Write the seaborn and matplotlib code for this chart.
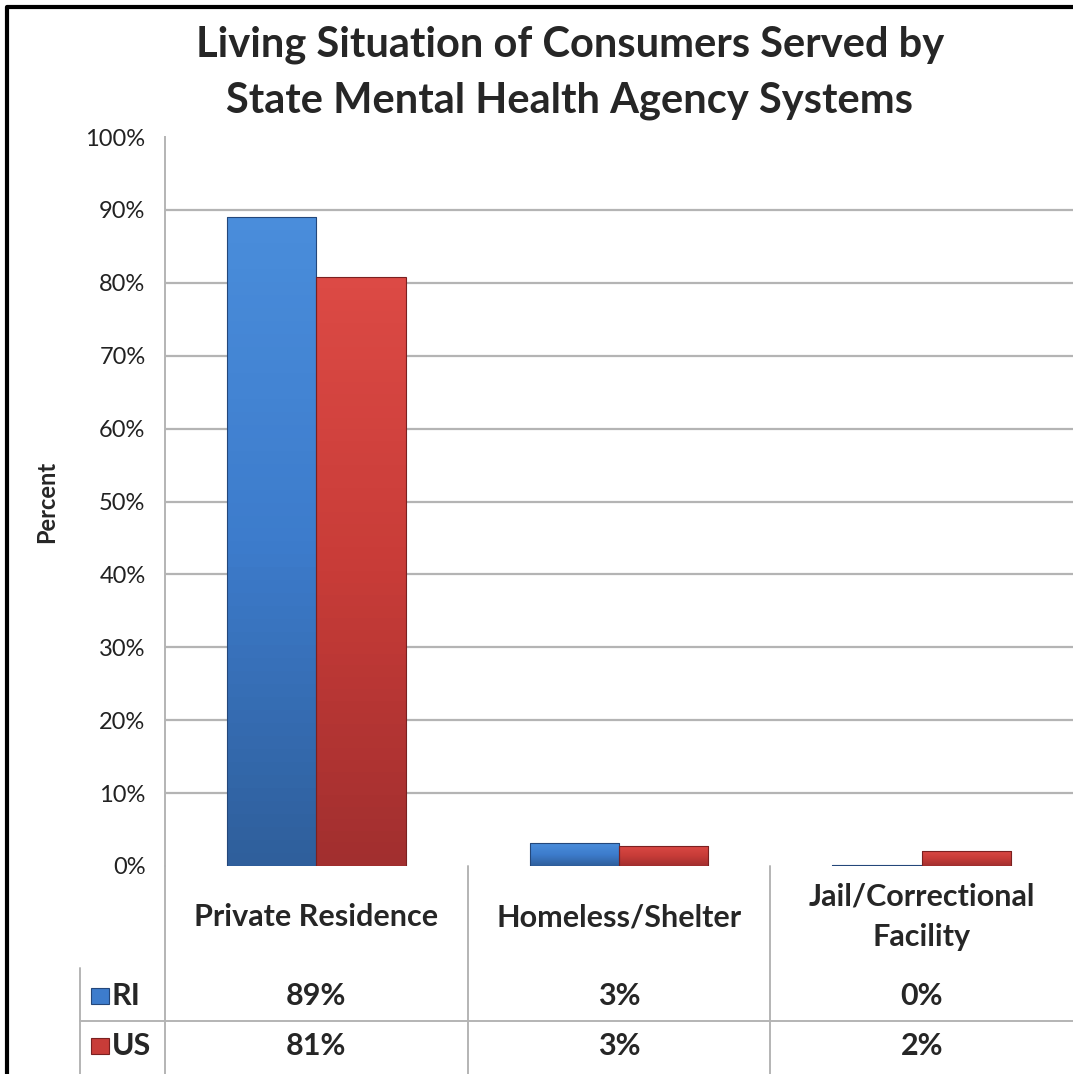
import numpy as np
import pandas as pd
import matplotlib
matplotlib.use("Agg")
import matplotlib.pyplot as plt
import matplotlib.transforms as mtransforms
from matplotlib.lines import Line2D
from matplotlib.colors import LinearSegmentedColormap
import seaborn as sns

categories = ["Private Residence", "Homeless/Shelter", "Jail/Correctional\nFacility"]
series = ["RI", "US"]
ri_values = [89.0, 3.1, 0.2]
us_values = [80.8, 2.8, 2.1]
ri_labels = ["89%", "3%", "0%"]
us_labels = ["81%", "3%", "2%"]
yticks = [0, 10, 20, 30, 40, 50, 60, 70, 80, 90, 100]

df = pd.DataFrame({
    "category": categories * 2,
    "series": ["RI"] * 3 + ["US"] * 3,
    "value": ri_values + us_values,
})

sns.set_style("white")
plt.rcParams["font.family"] = ["Lato", "DejaVu Sans"]

W, H = 1073, 1074
fig = plt.figure(figsize=(W / 100, H / 100), dpi=100)
ax = fig.add_axes([165 / W, 1 - 866 / H, 1 - 165 / W, (866 - 137) / H])

palette = {"RI": "#3d7ccc", "US": "#c83c38"}
sns.barplot(data=df, x="category", y="value", hue="series", hue_order=series,
            order=categories, palette=palette, width=0.59, saturation=1,
            legend=False, ax=ax)

# bevel-ish shading on each bar
grad = {
    "RI": LinearSegmentedColormap.from_list("ri", ["#2f5f9c", "#3d7ccc", "#4a8ddb"]),
    "US": LinearSegmentedColormap.from_list("us", ["#a22f2f", "#c83c38", "#dc4a45"]),
}
for i, p in enumerate(ax.patches[:6]):
    s = "RI" if i < 3 else "US"
    x0, y0 = p.get_x(), p.get_y()
    w, h = p.get_width(), p.get_height()
    if h <= 0:
        continue
    g = np.linspace(1, 0, 50)[:, None] * np.ones((1, 10))
    im = ax.imshow(g, cmap=grad[s], extent=[x0, x0 + w, y0, y0 + h],
                   aspect="auto", origin="upper", zorder=2)
    im.set_clip_path(p)
    p.set_facecolor("none")
    p.set_edgecolor("#24477a" if s == "RI" else "#7a2020")
    p.set_linewidth(0.8)
    p.set_zorder(3)

ax.set_xlim(-0.5, 2.5)
ax.set_ylim(0, 100)
ax.set_yticks(yticks)
ax.set_yticklabels([f"{t}%" for t in yticks], fontsize=17, color="#222222")
ax.tick_params(axis="y", length=0, pad=14)
ax.set_xticks([])
ax.set_xlabel("")
ax.set_ylabel("Percent", fontsize=17, fontweight="bold", labelpad=20)
for t in yticks[1:-1]:
    ax.axhline(t, color="#b4b4b4", lw=1.6, zorder=0)
for side in ["top", "right", "bottom"]:
    ax.spines[side].set_visible(False)
ax.spines["left"].set_color("#b4b4b4")
ax.spines["left"].set_linewidth(1.4)

# data table under the plot
tr = mtransforms.blended_transform_factory(ax.transData, fig.transFigure)
def fy(py):
    return 1 - py / H

for xv in [-0.5, 0.5, 1.5]:
    fig.add_artist(Line2D([xv, xv], [fy(866), 0], transform=tr,
                          color="#b4b4b4", lw=1.4))
fig.add_artist(Line2D([80 / W, 80 / W], [fy(968), 0], color="#b4b4b4", lw=1.4))
fig.add_artist(Line2D([80 / W, 1], [fy(1021), fy(1021)], color="#b4b4b4", lw=1.4))

for i, c in enumerate(categories):
    fig.text(i, fy(917), c, transform=tr, ha="center", va="center",
             fontsize=22, fontweight="bold", linespacing=1.55)
    fig.text(i, fy(996), ri_labels[i], transform=tr, ha="center", va="center",
             fontsize=22, fontweight="bold")
    fig.text(i, fy(1046), us_labels[i], transform=tr, ha="center", va="center",
             fontsize=22, fontweight="bold")

for s, py in zip(series, [996, 1046]):
    fig.patches.append(plt.Rectangle((91 / W, fy(py + 8)), 18 / W, 16 / H,
                                     transform=fig.transFigure,
                                     facecolor=palette[s],
                                     edgecolor="#24477a" if s == "RI" else "#7a2020",
                                     lw=0.8))
    fig.text(112 / W, fy(py), s, ha="left", va="center",
             fontsize=22, fontweight="bold")

fig.text(570 / W, fy(73), "Living Situation of Consumers Served by\nState Mental Health Agency Systems",
         ha="center", va="center", fontsize=30, fontweight="bold", linespacing=1.55)

# outer frame
fig.add_artist(Line2D([7 / W, 7 / W, 1], [0, fy(7), fy(7)],
                      color="black", lw=3))

plt.savefig("out.png", dpi=100)
